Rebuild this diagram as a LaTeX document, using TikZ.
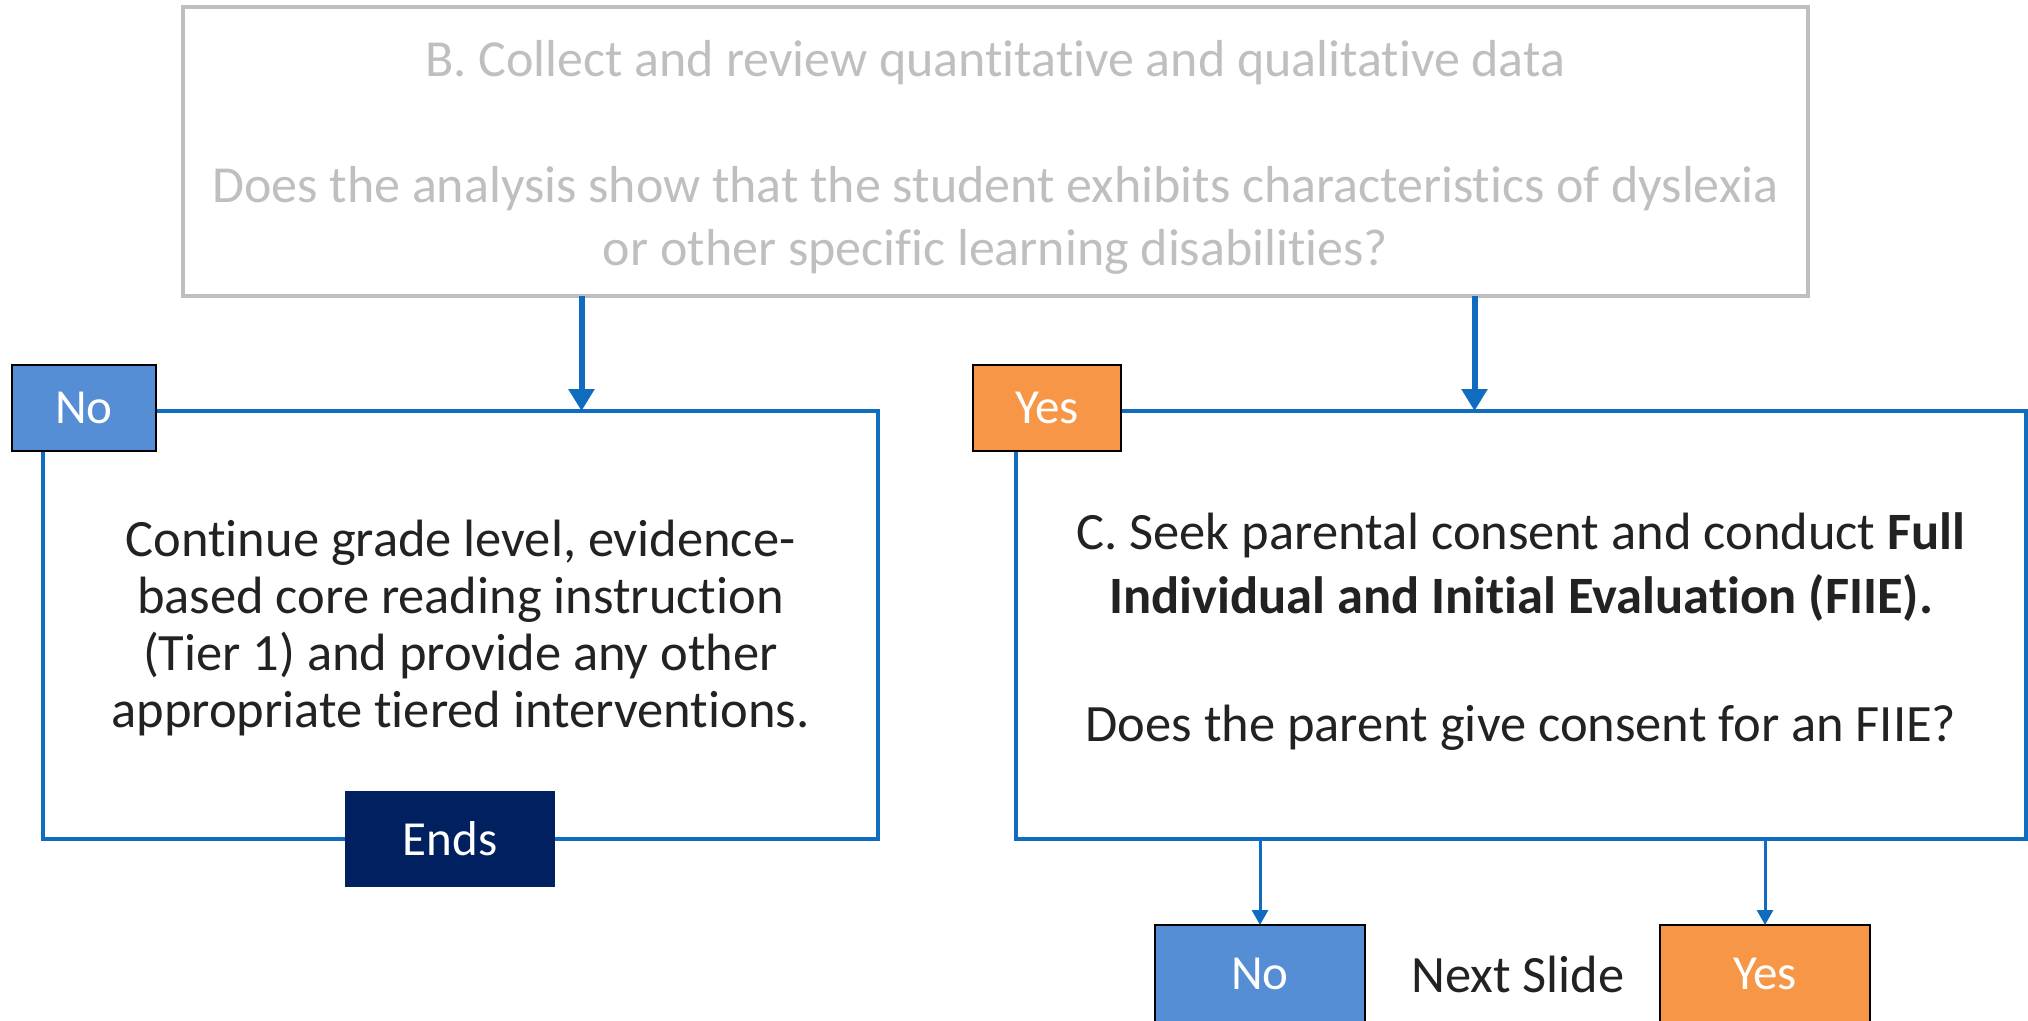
\documentclass[tikz,border=0pt]{standalone}
\usepackage{fontspec}
\setmainfont{Carlito}[Ligatures=NoCommon]
\usetikzlibrary{arrows.meta}
\definecolor{graybox}{HTML}{BFBFBF}
\definecolor{blueline}{HTML}{0F6CBF}
\definecolor{nofill}{HTML}{558ED5}
\definecolor{yesfill}{HTML}{F79646}
\definecolor{navy}{HTML}{002060}
\definecolor{textdark}{HTML}{222222}
\begin{document}
\begin{tikzpicture}[x=1pt,y=1pt,
  box/.style={rectangle, inner sep=0pt, outer sep=0pt},
  graystep/.style={box, draw=graybox, line width=3.5pt},
  bluestep/.style={box, draw=blueline, line width=3.5pt, fill=white},
  labelbox/.style={box, draw=black, line width=2.5pt, text=white, font=\fontsize{49}{58}\selectfont},
  nolabel/.style={labelbox, fill=nofill},
  yeslabel/.style={labelbox, fill=yesfill},
  endlabel/.style={box, fill=navy, text=white, font=\fontsize{49}{58}\selectfont},
  thickarrow/.style={draw=blueline, line width=6pt, -{Triangle[length=22pt,width=25pt]}},
  thinarrow/.style={draw=blueline, line width=3pt, -{Triangle[length=15pt,width=16pt]}},
  bodytext/.style={text=textdark, align=center, inner sep=0pt},
]
\clip (0,0) rectangle (2028,-1020);
\fill[white] (0,0) rectangle (2028,-1020);

% boxes
\node[graystep, minimum width=1625pt, minimum height=289pt] (top) at (995.5,-151.5) {};
\node[bluestep, minimum width=835pt, minimum height=428pt] (lbox) at (460.5,-625) {};
\node[bluestep, minimum width=1010pt, minimum height=428pt] (rbox) at (1521,-625) {};

% texts
\node[bodytext, text=graybox, font=\fontsize{52}{63}\selectfont] (toptext) at (995.5,-157)
  {B. Collect and review quantitative and qualitative data\\[63pt]
   Does the analysis show that the student exhibits characteristics of dyslexia\\
   or other specific learning disabilities?};
\node[bodytext, font=\fontsize{52.5}{57}\selectfont] (ltext) at (460.5,-628)
  {Continue grade level, evidence-\\based core reading instruction\\(Tier 1) and provide any other\\appropriate tiered interventions.};
\node[bodytext, font=\fontsize{52.5}{64}\selectfont] (rtext) at (1521,-632)
  {C. Seek parental consent and conduct \textbf{Full}\\
   \textbf{Individual and Initial Evaluation (FIIE).}\\[64pt]
   Does the parent give consent for an FIIE?};

% labels
\node[nolabel, minimum width=144pt, minimum height=86pt] (nolab) at (84,-408) {No};
\node[yeslabel, minimum width=148pt, minimum height=86pt] (yeslab) at (1047,-408) {Yes};
\node[endlabel, minimum width=210pt, minimum height=96pt] (ends) at (450,-839) {Ends};
\node[nolabel, minimum width=210pt, minimum height=98pt] (no2) at (1260,-974) {No};
\node[yeslabel, minimum width=210pt, minimum height=98pt] (yes2) at (1765,-974) {Yes};
\node[text=textdark, font=\fontsize{52.5}{60}\selectfont, anchor=base, inner sep=0pt] (next) at (1518,-992) {Next Slide};

% connectors
\coordinate (la) at (581.5,0);
\coordinate (ra) at (1474.5,0);
\draw[thickarrow] (top.south -| la) -- (lbox.north -| la);
\draw[thickarrow] (top.south -| ra) -- (rbox.north -| ra);
\draw[thinarrow] (rbox.south -| no2) -- (no2.north);
\draw[thinarrow] (rbox.south -| yes2) -- (yes2.north);
\end{tikzpicture}
\end{document}
